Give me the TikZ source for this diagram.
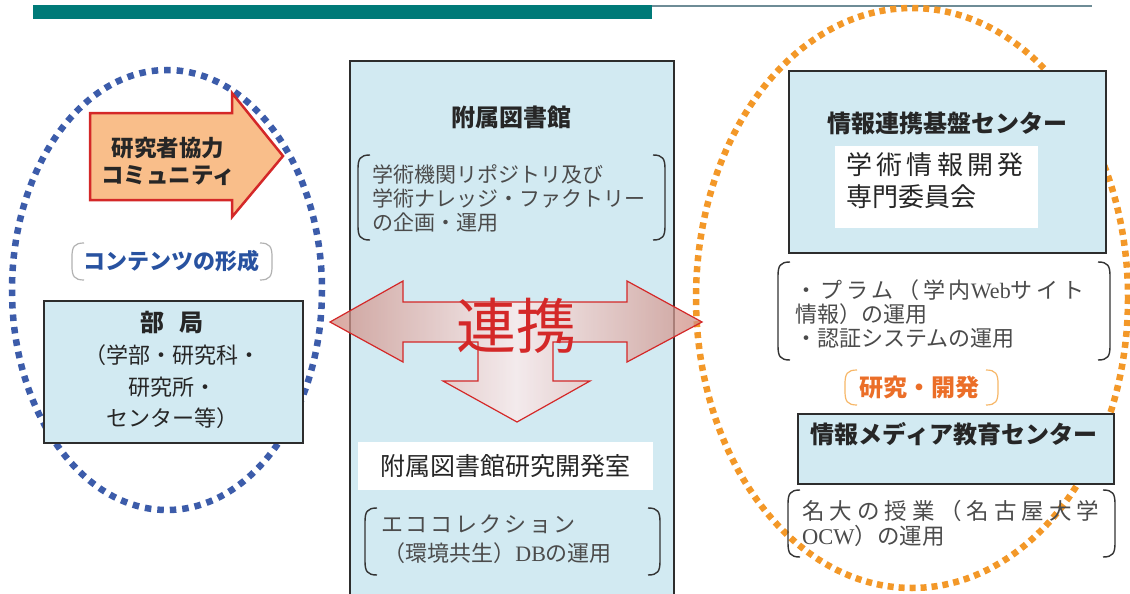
\documentclass[tikz,border=0pt]{standalone}
\usepackage{fontspec}
\setmainfont{Noto Sans CJK JP}
\newfontfamily\jpwide{Noto Sans CJK JP}[LetterSpace=12]
\newfontfamily\jpwidep{Noto Sans CJK JP}[LetterSpace=17]
\newfontfamily\jpwider{Noto Sans CJK JP}[LetterSpace=22]
\newfontfamily\lat{Liberation Serif}
\usetikzlibrary{shapes.geometric}
\definecolor{barteal}{RGB}{0,122,120}
\definecolor{barline}{RGB}{110,140,150}
\definecolor{boxfill}{RGB}{210,234,242}
\definecolor{boxline}{RGB}{45,45,45}
\definecolor{bluedot}{RGB}{60,92,170}
\definecolor{orangedot}{RGB}{243,152,40}
\definecolor{arrowred}{RGB}{212,40,40}
\definecolor{peach}{RGB}{249,190,138}
\definecolor{notegray}{RGB}{75,75,75}
\definecolor{contentblue}{RGB}{40,82,160}
\definecolor{devorange}{RGB}{235,110,40}
\definecolor{arrowedge}{RGB}{205,140,130}
\newcommand\brkpair[5][]{%
  \draw[#1] (#2+12,#3) .. controls (#2+2,#3) and (#2,#3+4) .. (#2,#3+14) -- (#2,#5-14) .. controls (#2,#5-4) and (#2+2,#5) .. (#2+12,#5);
  \draw[#1] (#4-12,#3) .. controls (#4-2,#3) and (#4,#3+4) .. (#4,#3+14) -- (#4,#5-14) .. controls (#4,#5-4) and (#4-2,#5) .. (#4-12,#5);
}
\begin{document}
\begin{tikzpicture}[x=1pt,y=-1pt,
  box/.style={draw=boxline, line width=1.6pt, fill=boxfill, anchor=north west, inner sep=0},
  titletext/.style={font=\bfseries\fontsize{24}{28}\selectfont, text=black!85},
  note/.style={font=\fontsize{21}{24}\selectfont, text=notegray, align=left, inner sep=0, anchor=north west},
  brk/.style={line width=1.4pt, draw=black!80},
  lightbrk/.style={line width=1.2pt, draw=black!30},
  bluedots/.style={draw=bluedot, line width=6.5pt, dash pattern=on 6.5pt off 6pt},
  orangedots/.style={draw=orangedot, line width=6.5pt, dash pattern=on 6pt off 5pt}
]
\useasboundingbox (0,0) rectangle (1130,594);
\fill[white] (0,0) rectangle (1130,594);
% top bar
\draw[barline, line width=1.5pt] (33,6) -- (1092,6);
\fill[barteal] (33,5) rectangle (652,19);

% dotted ellipses
\draw[bluedots] (167,290) ellipse [x radius=155, y radius=220];
\draw[orangedots] (912,298) ellipse [x radius=216, y radius=290];

% left community arrow
\draw[arrowred, line width=2.5pt, fill=peach, line join=miter]
  (90,113) -- (232,113) -- (232,93) -- (283,156) -- (232,217) -- (232,200) -- (90,200) -- cycle;
\node[font=\bfseries\fontsize{22.5}{27}\selectfont, align=center, text=black!85] (comm) at (168,161) {研究者協力\\コミュニティ};

% contents label
\node[font=\bfseries\fontsize{22}{26}\selectfont, text=contentblue] (contents) at (171,261) {コンテンツの形成};
\brkpair[lightbrk]{72}{243}{272}{280}

% left box
\node[box, minimum width=259pt, minimum height=142pt] (bukyoku) at (43,300) {};
\node[font=\bfseries\fontsize{24}{28}\selectfont, text=black!85] (bkt) at (172,322) {部\hspace{0.6em}局};
\node[font=\fontsize{22}{31.5}\selectfont, align=center, text=black!85] (bkd) at (172,387) {（学部・研究科・\\研究所・\\センター等）};

% center box
\node[box, minimum width=324pt, minimum height=560pt] (lib) at (349,60) {};
\node[titletext] (libt) at (511,117) {附属図書館};
\node[note] (libn) at (372,164) {学術機関リポジトリ及び\\学術ナレッジ・ファクトリー\\の企画・運用};
\brkpair[brk]{358}{155}{665}{240}

% renkei arrows
\shade[left color=arrowedge, right color=arrowedge, middle color=white!92!red, fill opacity=0.75]
  (330,322) -- (403,281) -- (403,302) -- (627,302) -- (627,281) -- (702,322) -- (627,362) -- (627,342)
  -- (553,342) -- (553,381) -- (590,381) -- (517,422) -- (443,381) -- (478,381) -- (478,342)
  -- (403,342) -- (403,362) -- cycle;
\draw[arrowred, line width=1.2pt, line join=miter]
  (330,322) -- (403,281) -- (403,302) -- (627,302) -- (627,281) -- (702,322) -- (627,362) -- (627,342)
  -- (553,342) -- (553,381) -- (590,381) -- (517,422) -- (443,381) -- (478,381) -- (478,342)
  -- (403,342) -- (403,362) -- cycle;
\node[font=\fontsize{60}{62}\selectfont, text=arrowred] (renkei) at (516,326) {連携};

% research room
\node[fill=white, anchor=north west, minimum width=295pt, minimum height=48pt, inner sep=0] (lab) at (358,442) {};
\node[font=\fontsize{25}{28}\selectfont, text=black!85] (labt) at (505,466) {附属図書館研究開発室};
\node[note, font=\fontsize{22}{29}\selectfont] (labn) at (381,515) {{\jpwide エココレクション}\\\hspace{0.1em}（環境共生）{\lat DB}の運用};
\brkpair[brk]{365}{508}{660}{575}

% right box 1
\node[box, minimum width=317pt, minimum height=182pt] (kiban) at (788,70) {};
\node[titletext] (kibant) at (947,123) {情報連携基盤センター};
\node[fill=white, anchor=north west, minimum width=203pt, minimum height=82pt, inner sep=0] (iinkai) at (835,146) {};
\node[font=\fontsize{26}{32}\selectfont, align=left, text=black!85, anchor=north west, inner sep=0] (iinkait) at (846,152) {学\,術\,情\,報\,開\,発\\専門委員会};
\node[note, font=\fontsize{22}{24}\selectfont] (kibann) at (795,279) {{\jpwidep ・プラム（学内{\lat Web}サイト}\\情報）の運用\\・認証システムの運用};
\brkpair[brk]{778}{262}{1110}{360}

% research label
\node[font=\bfseries\fontsize{24}{28}\selectfont, text=devorange] (dev) at (919,387) {研究・開発};
\brkpair[line width=1.2pt, draw=orangedot!70]{845}{370}{998}{405}

% right box 2
\node[box, minimum width=316pt, minimum height=70pt] (media) at (797,413) {};
\node[titletext] (mediat) at (954,434) {情報メディア教育センター};
\node[note, font=\fontsize{22.5}{25}\selectfont] (mediann) at (802,500) {{\jpwider 名大の授業（名古屋大学}\\{\lat OCW}）の運用};
\brkpair[brk]{788}{490}{1115}{557}
\end{tikzpicture}
\end{document}
